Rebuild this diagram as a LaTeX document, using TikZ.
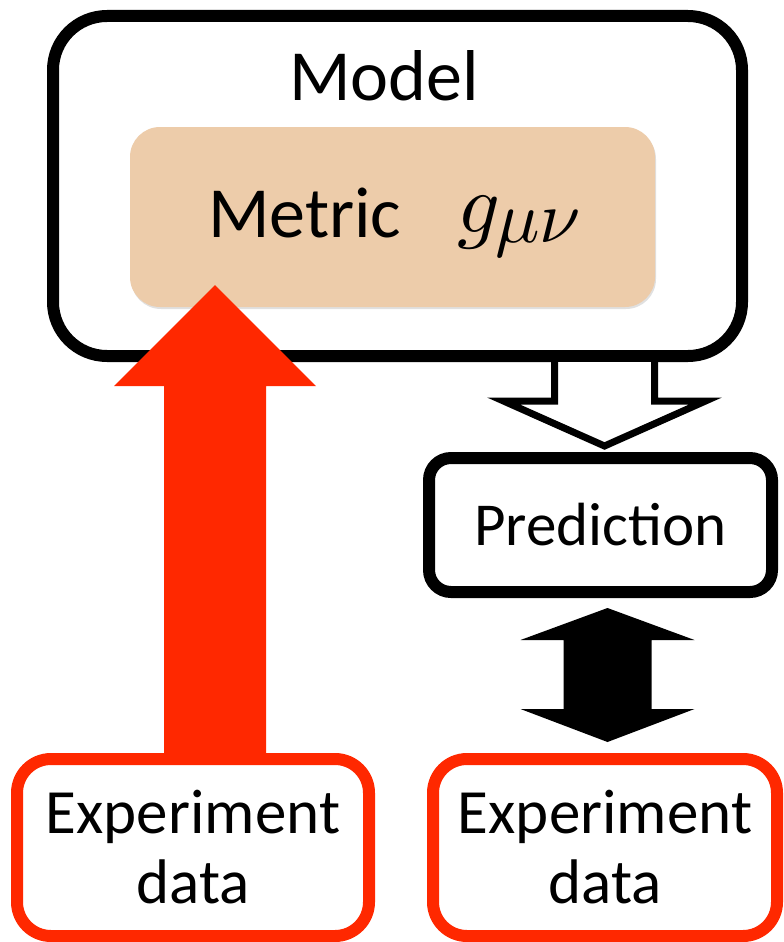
\documentclass[tikz,border=0pt]{standalone}
\usepackage{fontspec}
\setmainfont{Carlito}
\usetikzlibrary{shadows,calc}
\definecolor{fatred}{RGB}{255,40,0}
\definecolor{metrictan}{RGB}{237,204,170}
\begin{document}
\begin{tikzpicture}[x=1pt,y=-1pt,
  boxshadow/.style={drop shadow={shadow xshift=2pt,shadow yshift=-3pt,opacity=0.22,fill=black}},
  blackbox/.style={rectangle,draw=black,line width=12pt,fill=white,inner sep=0pt,boxshadow},
  redbox/.style={rectangle,draw=fatred,line width=12pt,fill=white,inner sep=0pt,rounded corners=34pt,
    minimum height=177pt,align=center,font=\fontsize{63}{70}\selectfont},
  bigtext/.style={inner sep=0pt,font=\fontsize{72}{80}\selectfont}]
\useasboundingbox (0,0) rectangle (784,942);

% Model box with metric box
\node[blackbox,rounded corners=54pt,minimum width=689pt,minimum height=340pt] (model) at (397.5,186) {};
\node[bigtext,anchor=base] (modellabel) at (384,100) {Model};
\node[rectangle,fill=metrictan,rounded corners=30pt,minimum width=525pt,minimum height=180pt,
  drop shadow={shadow xshift=1pt,shadow yshift=-2pt,opacity=0.12,fill=black}] (metric) at (392.5,217) {};
\node[bigtext,anchor=base west] (metriclabel) at (208,237) {Metric};
\node[inner sep=0pt,anchor=base west] (gmunu) at (457,232)
  {\scalebox{8.4}{\normalsize$g$}\kern-5pt\raisebox{-10pt}{\scalebox{7.4}{\normalsize$\mu\nu$}}};

% Prediction box
\node[blackbox,rounded corners=22pt,minimum width=343pt,minimum height=134pt,
  font=\fontsize{61}{66}\selectfont] (pred) at (600.5,525) {Prediction};

% Experiment boxes
\node[redbox,minimum width=352pt] (expL) at (193,847.5) {Experiment\\data};
\node[redbox,minimum width=344pt] (expR) at (605,847.5) {Experiment\\data};

% Red fat arrow from left experiment data up to the metric
\coordinate (rtail) at ($(expL.north)+(22,6)$);
\coordinate (rtip) at ($(metric.south)+(-177.5,-22)$);
\fill[fatred] ($(rtail)+(-51,0)$) -- ($(rtip)+(-51,101)$) -- ($(rtip)+(-101,101)$) -- (rtip)
  -- ($(rtip)+(101,101)$) -- ($(rtip)+(51,101)$) -- ($(rtail)+(51,0)$) -- cycle;

% Hollow arrow from model to prediction
\coordinate (htip) at ($(pred.north)+(4,-6)$);
\coordinate (hs) at (htip |- model.south);
\filldraw[fill=white,draw=black,line width=7pt,line join=miter]
  ($(hs)+(-50,0)$) -- ($(htip)+(-50,-45)$) -- ($(htip)+(-101,-45)$) -- (htip)
  -- ($(htip)+(101,-45)$) -- ($(htip)+(50,-45)$) -- ($(hs)+(50,0)$);

% Black double arrow between prediction and right experiment data
\coordinate (dt) at ($(pred.south)+(7,10)$);
\coordinate (db) at ($(expR.north)+(2.5,-11)$);
\fill[black] (dt) -- ($(dt)+(87,32)$) -- ($(dt)+(44,32)$) -- ($(db)+(44,-33)$) -- ($(db)+(87,-33)$)
  -- (db) -- ($(db)+(-87,-33)$) -- ($(db)+(-44,-33)$) -- ($(dt)+(-44,32)$) -- ($(dt)+(-87,32)$) -- cycle;
\end{tikzpicture}
\end{document}
